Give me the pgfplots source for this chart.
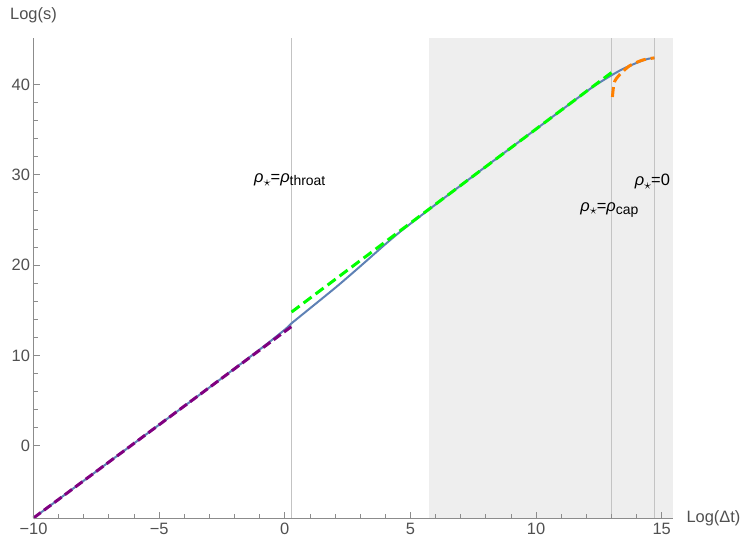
\documentclass[border=0pt]{standalone}
\usepackage{pgfplots}
\pgfplotsset{compat=1.18}
\usepackage{fontspec}
\setmainfont{Liberation Sans}
\definecolor{mblue}{HTML}{5E81B5}
\definecolor{mpurple}{RGB}{128,0,128}
\definecolor{mgreen}{RGB}{0,255,0}
\definecolor{morange}{RGB}{255,128,0}
\definecolor{shade}{RGB}{238,238,238}
\definecolor{vline}{RGB}{195,195,195}
\definecolor{axgray}{RGB}{140,140,140}
\definecolor{labgray}{RGB}{80,80,80}
\newcommand{\fs}{\fontsize{16.5}{19}\selectfont}
\newcommand{\rstar}{{\itshape ρ}\raisebox{-0.4ex}{\fontsize{15}{15}\selectfont$\star$}}
\newcommand{\rsub}[1]{{\itshape ρ}\raisebox{-0.35ex}{\fontsize{14}{14}\selectfont #1}}
\begin{document}
\begin{tikzpicture}
\begin{axis}[
  name=ax,
  scale only axis,
  width=639.5bp, height=479.7bp,
  xmin=-10, xmax=15.45, ymin=-8, ymax=45.1,
  axis lines=left,
  x axis line style={-, draw=axgray, line width=0.9bp},
  y axis line style={-, draw=axgray, line width=0.9bp},
  axis on top,
  tick align=inside,
  major tick length=6bp, minor tick length=4bp,
  every tick/.style={draw=axgray, line width=0.8bp},
  xtick={-10,-5,0,5,10,15},
  xticklabels={−10,−5,0,5,10,15},
  ytick={0,10,20,30,40},
  yticklabels={0,10,20,30,40},
  minor x tick num=4,
  minor y tick num=4,
  tick label style={font=\fs, text=labgray},
  xticklabel style={yshift=-2bp},
  clip=false,
]
% shaded region
\addplot[draw=none, fill=shade, forget plot] coordinates {(5.72,-8) (15.45,-8) (15.45,45.1) (5.72,45.1)} -- cycle;
% vertical reference lines
\addplot[vline, line width=1.2bp] coordinates {(0.27,-8) (0.27,45.1)};
\addplot[vline, line width=1.2bp] coordinates {(13.0,-8) (13.0,45.1)};
\addplot[vline, line width=1.2bp] coordinates {(14.72,-8) (14.72,45.1)};
% main curve
\addplot[mblue, line width=2bp, smooth] coordinates {
 (-10,-8) (-6,0.26) (-3,6.45) (-1,10.65) (0,12.85) (0.27,13.55) (1,15.2) (2.06,17.6)
 (3,19.85) (4,22.3) (4.69,23.9) (6,26.7) (8,30.9) (10,35.05) (12,39.2) (12.5,40.15)
 (13,41.0) (13.45,41.7) (13.85,42.2) (14.25,42.65) (14.5,42.85) (14.71,42.93)};
% purple dashed
\addplot[mpurple, line width=3bp, dash pattern=on 9bp off 4bp] coordinates {(-10,-8) (0.27,13.2)};
% green dashed
\addplot[mgreen, line width=3bp, dash pattern=on 10bp off 5bp] coordinates {(0.27,14.8) (13.0,41.3)};
% orange dashed
\addplot[morange, line width=3bp, dash pattern=on 10bp off 5bp, smooth] coordinates {
 (13.04,38.6) (13.08,39.7) (13.14,40.4) (13.32,41.05) (13.72,42.05) (14.25,42.7) (14.71,42.93)};
% labels
\node[font=\fs] at (axis cs:0.2,29.4) {\rstar=\rsub{throat}};
\node[font=\fs] at (axis cs:12.92,26.1) {\rstar=\rsub{cap}};
\node[font=\fs] at (axis cs:14.63,29.2) {\rstar=0};
\node[font=\fs, text=labgray, anchor=west] at ([xshift=10bp]rel axis cs:1,0) {Log(Δt)};
\node[font=\fs, text=labgray] at ([yshift=23bp]rel axis cs:0,1) {Log(s)};
\end{axis}
\pgfresetboundingbox
\path ([shift={(-33.5bp,-25bp)}]ax.south west) rectangle ([shift={(73bp,38.3bp)}]ax.north east);
\end{tikzpicture}
\end{document}
